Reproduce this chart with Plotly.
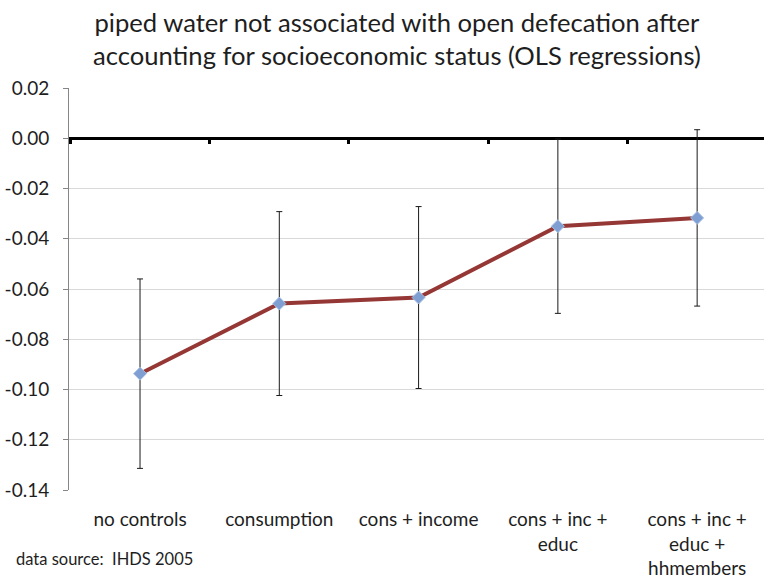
import plotly.graph_objects as go

# OLS coefficient on piped water, by set of socioeconomic controls
categories = ["no controls", "consumption", "cons + income",
              "cons + inc +<br>educ", "cons + inc +<br>educ +<br>hhmembers"]
coefficients = [-0.0937, -0.0658, -0.0634, -0.0350, -0.0317]
ci_half_width = [0.0377, 0.0366, 0.0362, 0.0347, 0.0351]

y_ticks = [0.02, 0.00, -0.02, -0.04, -0.06, -0.08, -0.10, -0.12, -0.14]
x_range = [-0.51, 4.48]
y_range = [-0.14, 0.02]

FONT = "Lato, 'Open Sans', sans-serif"
TEXT = "#1e1e1e"
positions = list(range(len(categories)))

# plot area in pixels, used to place the free-floating texts
PLOT_L, PLOT_T, PLOT_W, PLOT_H = 69, 88, 695, 404


def px_to_paper(px, py):
    return (px - PLOT_L) / PLOT_W, (PLOT_T + PLOT_H - py) / PLOT_H


fig = go.Figure()

fig.add_trace(go.Scatter(
    x=positions, y=coefficients,
    mode="lines+markers",
    line=dict(color="#953735", width=4),
    marker=dict(symbol="diamond", size=10, color="#7f9fd3",
                line=dict(color="#a9c1e6", width=1)),
    error_y=dict(type="data", array=ci_half_width, visible=True,
                 color="#1a1a1a", thickness=1, width=3),
    hoverinfo="skip", showlegend=False,
))

# invisible trace to carry the axis that draws boundary ticks on the zero line
fig.add_trace(go.Scatter(
    x=positions, y=coefficients, xaxis="x2", mode="markers",
    marker=dict(opacity=0), hoverinfo="skip", showlegend=False,
))

zero_frac = (0 - y_range[0]) / (y_range[1] - y_range[0])

title_x, title_y = px_to_paper(397, 5)
src_x, src_y = px_to_paper(14, 561)

fig.update_layout(
    width=764, height=579,
    margin=dict(l=PLOT_L, r=764 - PLOT_L - PLOT_W, t=PLOT_T, b=579 - PLOT_T - PLOT_H),
    paper_bgcolor="white", plot_bgcolor="white",
    font=dict(family=FONT, color=TEXT),
    xaxis=dict(
        range=x_range, tickvals=positions, ticktext=categories,
        showgrid=False, zeroline=False, showline=False,
        ticks="", ticklabelstandoff=16,
        tickfont=dict(size=19, family=FONT, color=TEXT),
    ),
    xaxis2=dict(
        range=x_range, overlaying="x", anchor="free", position=zero_frac,
        tickvals=[p - 0.5 for p in positions] + [positions[-1] + 0.5],
        showticklabels=False, showgrid=False, zeroline=False, showline=False,
        ticks="outside", ticklen=5, tickwidth=3, tickcolor="black",
    ),
    yaxis=dict(
        range=y_range, tickvals=y_ticks,
        ticktext=[f"{v:.2f}" for v in y_ticks],
        showgrid=True, gridcolor="#d9d9d9", gridwidth=1,
        zeroline=True, zerolinecolor="black", zerolinewidth=3,
        showline=True, linecolor="#868686", linewidth=1,
        ticks="outside", ticklen=5, tickcolor="#868686",
        ticklabelstandoff=10,
        tickfont=dict(size=19, family=FONT, color=TEXT),
    ),
    annotations=[
        dict(
            text="piped water not associated with open defecation after<br>"
                 "accounting for socioeconomic status (OLS regressions)",
            xref="paper", yref="paper", x=title_x, y=title_y,
            xanchor="center", yanchor="top", align="center",
            showarrow=False, font=dict(size=25.6, family=FONT, color=TEXT),
        ),
        dict(
            text="data source:  IHDS 2005", xref="paper", yref="paper",
            x=src_x, y=src_y, xanchor="left", yanchor="middle",
            showarrow=False, font=dict(size=16.5, family=FONT, color=TEXT),
        ),
    ],
)

fig.write_html("out.html")
